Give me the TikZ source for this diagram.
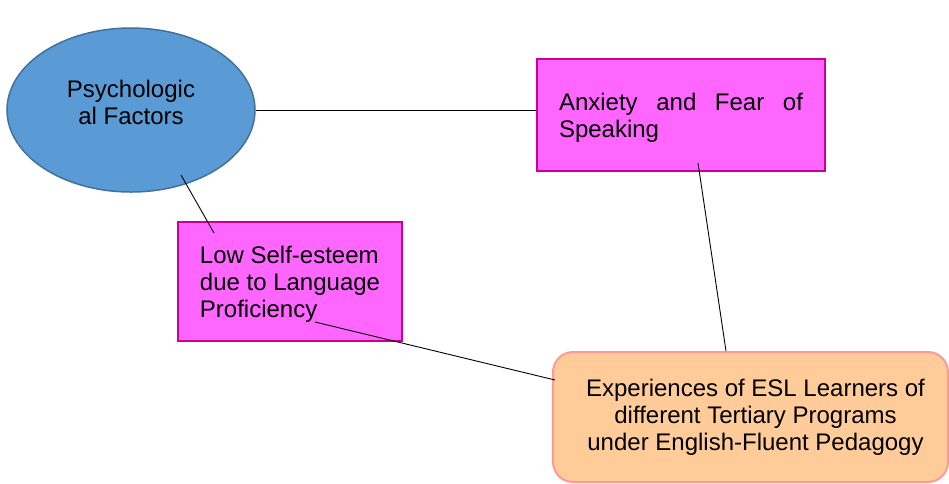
\documentclass[tikz,border=0pt]{standalone}
\usepackage{fontspec}
\setmainfont{Liberation Sans}
\usetikzlibrary{shapes.geometric,calc}
\definecolor{ellfill}{HTML}{5B9BD5}
\definecolor{elldraw}{HTML}{41719C}
\definecolor{pinkfill}{HTML}{FF66FF}
\definecolor{pinkdraw}{HTML}{CC0099}
\definecolor{orfill}{HTML}{FFCC99}
\definecolor{ordraw}{HTML}{FF9999}
\tikzset{
  txt/.style={font=\fontsize{24}{27}\selectfont, inner sep=0pt},
  ellbox/.style={ellipse, draw=elldraw, fill=ellfill, line width=1.5pt, minimum width=248pt, minimum height=164pt, inner sep=0pt},
  pinkbox/.style={rectangle, draw=pinkdraw, fill=pinkfill, line width=2pt, inner sep=0pt},
  orbox/.style={rectangle, rounded corners=20pt, draw=ordraw, fill=orfill, line width=2pt, txt, align=center, minimum width=395pt, minimum height=130pt},
  conn/.style={draw=black, line width=0.9pt}
}
\begin{document}
\begin{tikzpicture}[x=1pt, y=-1pt]
\useasboundingbox (0,0) rectangle (949,483);
\node[ellbox] (psy) at (131,110) {};
\node[txt, align=center] (psyt) at (131,102) {Psychologic\\al Factors};
\node[pinkbox, minimum width=288pt, minimum height=112pt] (anx) at (681,115) {};
\node[txt, align=left] (anxt) at (681,118)
  {\makebox[244pt][s]{Anxiety and Fear of}\\Speaking};
\node[pinkbox, minimum width=224pt, minimum height=119pt] (low) at (290,281.5) {};
\node[txt, align=left] (lowt) at (290,284.5)
  {Low Self-esteem\\due to Language\\Proficiency};
\node[orbox] (exp) at (750.5,417)
  {\hspace*{10pt}Experiences of ESL Learners of\\\hspace*{10pt}different Tertiary Programs\\\hspace*{10pt}under English-Fluent Pedagogy};
\draw[conn] (psy.east) -- (psy.east -| anx.west);
\draw[conn] ($(psy.center)+(50,65)$) -- ($(low.center)+(-76,-48.5)$);
\draw[conn] ($(low.center)+(25,40.5)$) -- ($(exp.west)+(3,-37)$);
\draw[conn] ($(anx.center)+(17,48)$) -- ($(exp.north)+(-24.5,0)$);
\end{tikzpicture}
\end{document}
